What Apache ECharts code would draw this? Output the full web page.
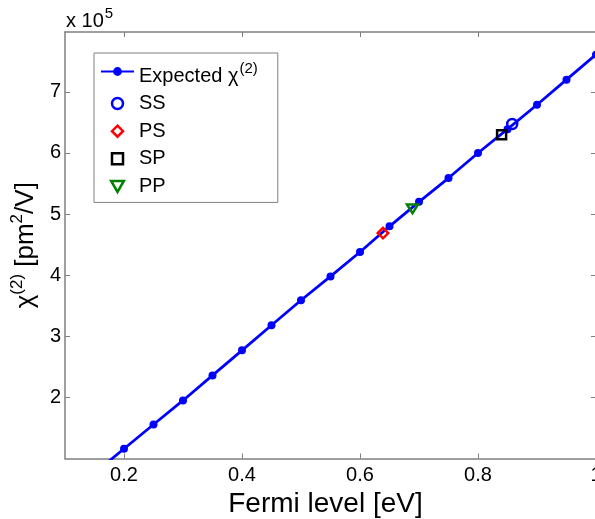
<!DOCTYPE html>
<html><head><meta charset="utf-8">
<script src="https://cdn.jsdelivr.net/npm/echarts@6/dist/echarts.min.js"></script>
<style>html,body{margin:0;padding:0;background:#fff}#c{width:595px;height:519px}</style>
</head><body><div id="c"></div>
<script>
// Fermi level [eV] and expected chi(2) [pm^2/V]
const fermi = [0.15, 0.2, 0.25, 0.3, 0.35, 0.4, 0.45, 0.5, 0.55, 0.6, 0.65, 0.7, 0.75, 0.8, 0.85, 0.9, 0.95, 1.0];
const expected = [0.76e5, 1.16e5, 1.557e5, 1.95e5, 2.36e5, 2.77e5, 3.18e5, 3.59e5, 3.98e5, 4.38e5, 4.80e5, 5.20e5, 5.59e5, 6.00e5, 6.39e5, 6.79e5, 7.20e5, 7.61e5];
// measured configurations
const measNames = ['SS', 'PS', 'SP', 'PP'];
const measFermi = [0.858, 0.639, 0.840, 0.689];
const measChi = [6.475e5, 4.69e5, 6.30e5, 5.085e5];
// tick labels
const xTicks = [0.2, 0.4, 0.6, 0.8, 1.0];
const yTicks = [2e5, 3e5, 4e5, 5e5, 6e5, 7e5];

const FONT = "'Liberation Sans', Arial, sans-serif";
const axisGray = '#7f7f7f';
const measStyle = {
  SS: {symbol: 'circle', size: 10, color: '#0000ff'},
  PS: {symbol: 'path://M5,0L10,5L5,10L0,5Z', size: 10.5, color: '#ff0000'},
  SP: {symbol: 'path://M0,0L10,0L10,10L0,10Z', size: 9, color: '#000000'},
  PP: {symbol: 'path://M0,0L12,0L6,10.4Z', size: [11, 10], color: '#008000'}
};

const chart = echarts.init(document.getElementById('c'), null, {renderer: 'canvas'});

function axisCommon() {
  return {
    axisLine: {show: true, onZero: false, lineStyle: {color: axisGray, width: 1.5}},
    splitLine: {show: false}
  };
}

const series = [{
  name: 'Expected',
  type: 'line',
  data: fermi.map((f, i) => [f, expected[i]]),
  symbol: 'circle',
  symbolSize: 8,
  showAllSymbol: true,
  clip: true,
  lineStyle: {color: '#0000ff', width: 2.8},
  itemStyle: {color: '#0000ff', opacity: 1},
  emphasis: {disabled: true},
  z: 2
}];
measNames.forEach((n, i) => {
  const s = measStyle[n];
  series.push({
    name: n,
    type: 'scatter',
    data: [[measFermi[i], measChi[i]]],
    symbol: s.symbol,
    symbolSize: s.size,
    symbolKeepAspect: true,
    itemStyle: {color: 'rgba(0,0,0,0)', borderColor: s.color, borderWidth: 2.5, opacity: 1},
    emphasis: {disabled: true},
    z: 3
  });
});

const option = {
  animation: false,
  textStyle: {fontFamily: FONT},
  grid: {left: 65, top: 32, width: 531, height: 426.5, containLabel: false, outerBoundsMode: 'none'},
  title: {
    text: '{a|x 10}{s|5}',
    left: 61, top: 1,
    textStyle: {
      fontFamily: FONT, fontWeight: 'normal',
      rich: {
        a: {fontSize: 20, color: '#000', fontFamily: FONT, fontWeight: 'normal', verticalAlign: 'bottom'},
        s: {fontSize: 15, color: '#000', fontFamily: FONT, fontWeight: 'normal', verticalAlign: 'bottom', padding: [0, 0, 10, 1]}
      }
    }
  },
  legend: {
    orient: 'vertical',
    left: 94, top: 53,
    padding: [4, 20, 6, 6],
    itemWidth: 33, itemHeight: 11, itemGap: 7.6,
    borderColor: '#808080', borderWidth: 1, backgroundColor: '#fff',
    selectedMode: false,
    itemStyle: {borderWidth: 2.5, opacity: 1},
    textStyle: {
      fontSize: 20, lineHeight: 20, color: '#000', fontFamily: FONT,
      rich: {
        t: {fontSize: 20, lineHeight: 29, color: '#000', fontFamily: FONT, verticalAlign: 'bottom'},
        s: {fontSize: 15, lineHeight: 15, color: '#000', fontFamily: FONT, verticalAlign: 'top', padding: [4, 0, 0, 1]}
      }
    },
    formatter: name => name === 'Expected' ? '{t|Expected χ}{s|(2)}' : name,
    data: ['Expected'].concat(measNames)
  },
  xAxis: [
    Object.assign(axisCommon(), {
      type: 'value', min: 0.1, max: 1.0, position: 'bottom',
      axisTick: {show: true, inside: true, length: 5, customValues: xTicks, lineStyle: {color: axisGray}},
      axisLabel: {customValues: xTicks, color: '#000', fontSize: 20, margin: 7, fontFamily: FONT},
      name: 'Fermi level [eV]', nameLocation: 'middle', nameGap: 25,
      nameTextStyle: {fontSize: 28, color: '#000', fontFamily: FONT, padding: [0, 10, 0, 0]}
    }),
    Object.assign(axisCommon(), {
      type: 'value', min: 0.1, max: 1.0, position: 'top',
      axisTick: {show: true, inside: true, length: 5, customValues: xTicks, lineStyle: {color: axisGray}},
      axisLabel: {show: false}
    })
  ],
  yAxis: [
    Object.assign(axisCommon(), {
      type: 'value', min: 1e5, max: 7.98e5, position: 'left',
      axisTick: {show: true, inside: true, length: 5, customValues: yTicks, lineStyle: {color: axisGray}},
      axisLabel: {customValues: yTicks, color: '#000', fontSize: 20, margin: 4, fontFamily: FONT,
        formatter: v => String(Math.round(v / 1e5))},
      name: '{m|χ}{s|(2)}{m| [pm}{s|2}{m|/V]}', nameLocation: 'middle', nameRotate: 90, nameGap: 19,
      nameTextStyle: {
        fontFamily: FONT, color: '#000',
        rich: {
          m: {fontSize: 26, color: '#000', fontFamily: FONT, verticalAlign: 'bottom'},
          s: {fontSize: 17, color: '#000', fontFamily: FONT, verticalAlign: 'bottom', padding: [0, 0, 13, 0]}
        }
      }
    }),
    Object.assign(axisCommon(), {
      type: 'value', min: 1e5, max: 7.98e5, position: 'right',
      axisTick: {show: true, inside: true, length: 5, customValues: yTicks, lineStyle: {color: axisGray}},
      axisLabel: {show: false}
    })
  ],
  series: series
};
chart.setOption(option);
</script>
</body></html>
